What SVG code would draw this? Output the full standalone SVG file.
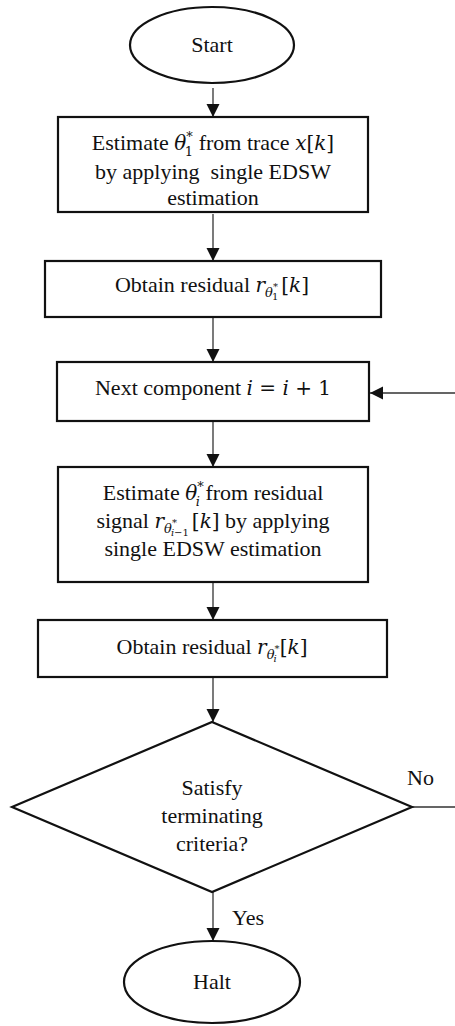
<svg xmlns="http://www.w3.org/2000/svg" width="455" height="1026" viewBox="0 0 455 1026">
<style>
.t { font-family: 'Liberation Serif', 'Times New Roman', serif; font-size: 22px; fill: #111; }
.m { font-family: 'DejaVu Serif', 'Liberation Serif', serif; font-style: italic; font-size: 20px; }
.b { font-family: 'DejaVu Serif', 'Liberation Serif', serif; font-size: 20px; }
.s { font-family: 'DejaVu Serif', 'Liberation Serif', serif; font-size: 13px; }
.ss { font-family: 'DejaVu Serif', 'Liberation Serif', serif; font-size: 10px; }
.i { font-style: italic; }
.shape { fill: #fff; stroke: #111; stroke-width: 2.2; }
.conn { fill: none; stroke: #333; stroke-width: 1.3; }
</style>
<defs>
<marker id="arr" markerUnits="userSpaceOnUse" markerWidth="14" markerHeight="14" refX="13" refY="6.5" orient="auto">
<path d="M0,0 L13,6.5 L0,13 z" fill="#111"/>
</marker>
</defs>
<rect width="455" height="1026" fill="#fff"/>

<g id="connectors">
<line class="conn" x1="213" y1="88" x2="213" y2="117" marker-end="url(#arr)"/>
<line class="conn" x1="213" y1="214" x2="213" y2="261" marker-end="url(#arr)"/>
<line class="conn" x1="213" y1="318" x2="213" y2="362" marker-end="url(#arr)"/>
<line class="conn" x1="213" y1="422" x2="213" y2="467" marker-end="url(#arr)"/>
<line class="conn" x1="213" y1="583" x2="213" y2="620" marker-end="url(#arr)"/>
<line class="conn" x1="213" y1="678" x2="213" y2="722" marker-end="url(#arr)"/>
<line class="conn" x1="213" y1="892" x2="213" y2="941" marker-end="url(#arr)"/>
<path class="conn" d="M412,807 H460 V393 H370" marker-end="url(#arr)"/>
<text class="t" x="407" y="785">No</text>
<text class="t" x="232" y="925">Yes</text>
</g>

<g id="start">
<ellipse class="shape" cx="212" cy="45" rx="82" ry="38"/>
<text class="t" x="212" y="52" text-anchor="middle">Start</text>
</g>

<g id="estimate1">
<rect class="shape" x="58" y="117" width="310" height="95"/>
<text class="t" x="213" y="150" text-anchor="middle">Estimate <tspan class="m">θ</tspan><tspan class="s" dy="-9">*</tspan><tspan class="s" dx="-8" dy="15">1</tspan><tspan dy="-6"> from trace </tspan><tspan class="m">x</tspan><tspan class="b">[</tspan><tspan class="m">k</tspan><tspan class="b">]</tspan></text>
<text class="t" x="213" y="179" text-anchor="middle">by applying&#160; single EDSW</text>
<text class="t" x="213" y="205" text-anchor="middle">estimation</text>
</g>

<g id="residual1">
<rect class="shape" x="45" y="261" width="336" height="56"/>
<text class="t" x="212" y="292" text-anchor="middle">Obtain residual <tspan class="m">r</tspan><tspan class="s i" dy="5">θ</tspan><tspan class="ss" dy="-7">*</tspan><tspan class="ss" dx="-6" dy="10">1</tspan><tspan class="b" dx="3" dy="-8">[</tspan><tspan class="m">k</tspan><tspan class="b">]</tspan></text>
</g>

<g id="next">
<rect class="shape" x="57" y="362" width="312" height="59"/>
<text class="t" x="213" y="395" text-anchor="middle">Next component <tspan class="m">i</tspan><tspan class="b"> = </tspan><tspan class="m">i</tspan><tspan class="b"> + 1</tspan></text>
</g>

<g id="estimate_i">
<rect class="shape" x="58" y="467" width="310" height="115"/>
<text class="t" x="213" y="500" text-anchor="middle">Estimate <tspan class="m">θ</tspan><tspan class="s" dy="-9">*</tspan><tspan class="s i" dx="-8" dy="15">i</tspan><tspan dy="-6"> from residual</tspan></text>
<text class="t" x="213" y="528" text-anchor="middle">signal <tspan class="m">r</tspan><tspan class="s i" dy="5">θ</tspan><tspan class="ss" dy="-7">*</tspan><tspan class="ss" dx="-6" dy="10"><tspan class="i">i</tspan>−1</tspan><tspan class="b" dx="3" dy="-8">[</tspan><tspan class="m">k</tspan><tspan class="b">]</tspan> by applying</text>
<text class="t" x="213" y="556" text-anchor="middle">single EDSW estimation</text>
</g>

<g id="residual_i">
<rect class="shape" x="38" y="620" width="349" height="57"/>
<text class="t" x="212" y="654" text-anchor="middle">Obtain residual <tspan class="m">r</tspan><tspan class="s i" dy="5">θ</tspan><tspan class="ss" dy="-7">*</tspan><tspan class="ss i" dx="-6" dy="10">i</tspan><tspan class="b" dx="3" dy="-8">[</tspan><tspan class="m">k</tspan><tspan class="b">]</tspan></text>
</g>

<g id="decision">
<polygon class="shape" points="212,722 412,807 212,892 12,807"/>
<text class="t" x="212" y="795" text-anchor="middle">Satisfy</text>
<text class="t" x="212" y="823" text-anchor="middle">terminating</text>
<text class="t" x="212" y="851" text-anchor="middle">criteria?</text>
</g>

<g id="halt">
<ellipse class="shape" cx="212" cy="982" rx="88" ry="41"/>
<text class="t" x="212" y="989" text-anchor="middle">Halt</text>
</g>
</svg>
